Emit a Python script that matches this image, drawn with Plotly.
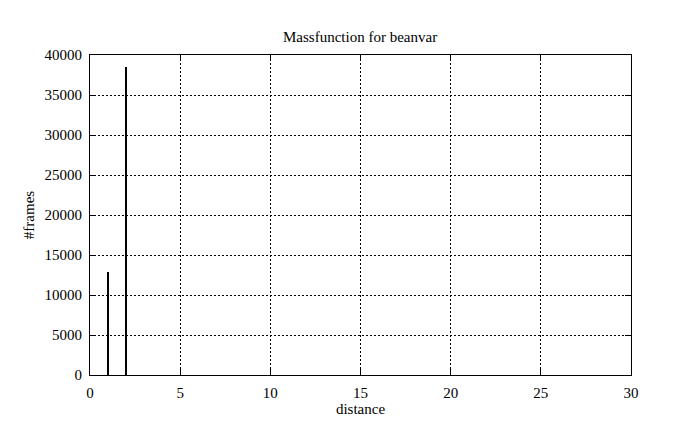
import plotly.graph_objects as go

distance = [1, 2]
frames = [12900, 38500]
x_ticks = [0, 5, 10, 15, 20, 25, 30]
y_ticks = [0, 5000, 10000, 15000, 20000, 25000, 30000, 35000, 40000]
y_labels = [str(v) for v in y_ticks]

fig = go.Figure()
fig.add_trace(go.Bar(x=distance, y=frames, width=0.13,
                     marker=dict(color="black", line=dict(width=0)), showlegend=False))

font = dict(family="Liberation Serif", size=15, color="black")
axis_common = dict(
    showline=True, linecolor="black", linewidth=1, mirror="ticks",
    ticks="inside", ticklen=6, tickcolor="black", tickwidth=1,
    showgrid=True, gridcolor="black", griddash="2px,2px", gridwidth=1,
    zeroline=False, tickfont=font,
)
fig.update_layout(
    width=685, height=429,
    margin=dict(l=82, r=62, t=47, b=62),
    paper_bgcolor="white", plot_bgcolor="white",
    font=font,
    title=dict(text="Massfunction for beanvar", x=0.514, xanchor="center",
               y=0.932, yanchor="middle", font=font),
    xaxis=dict(range=[0, 30], tickvals=x_ticks, ticklabelstandoff=4,
               title=dict(text="distance", font=font, standoff=2), **axis_common),
    yaxis=dict(range=[0, 40000], tickvals=y_ticks, ticktext=y_labels, ticklabelstandoff=4,
               title=dict(text="#frames", font=font, standoff=6), **axis_common),
    bargap=0,
)
fig.write_html("out.html")
